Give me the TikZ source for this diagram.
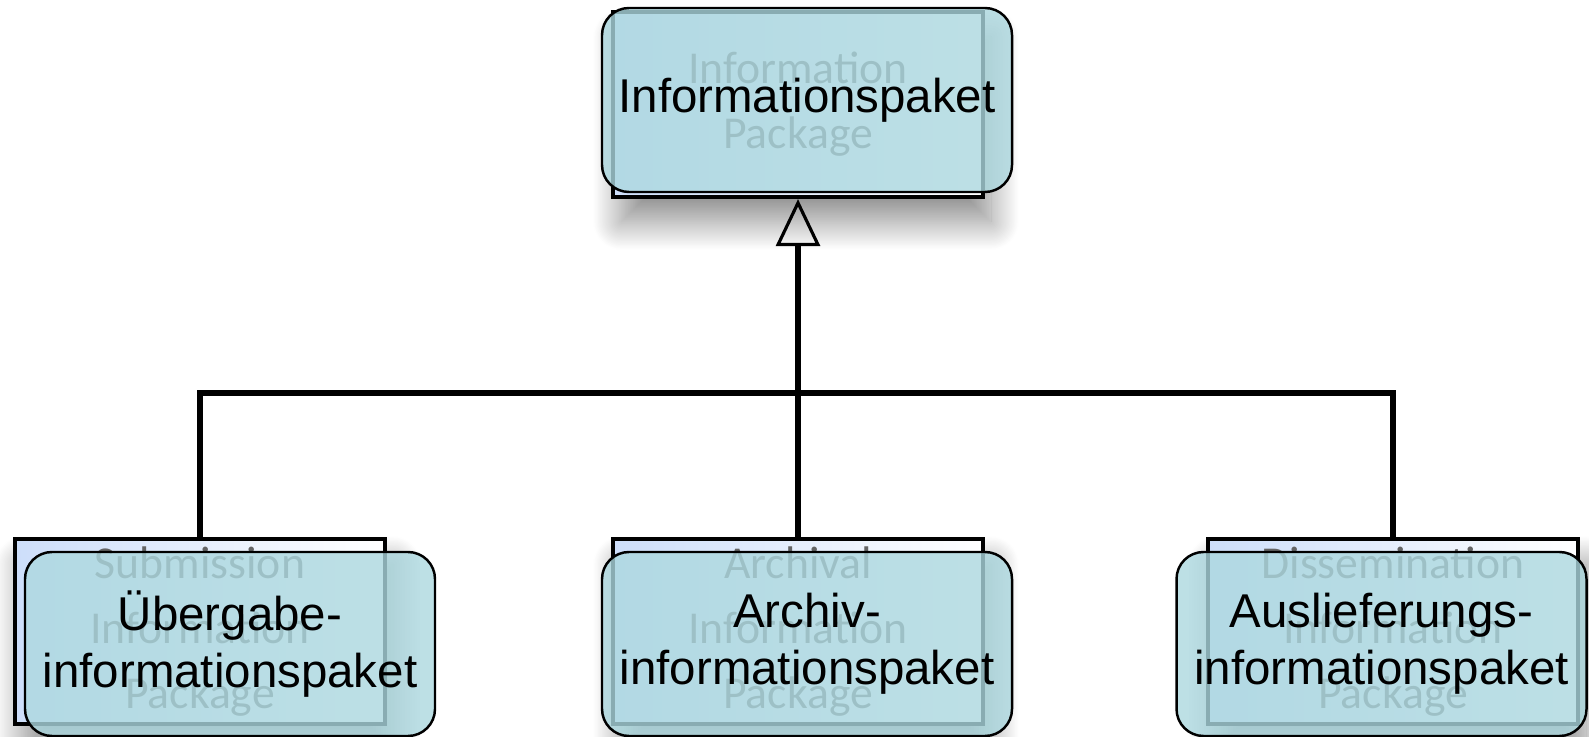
\documentclass[tikz,border=0pt]{standalone}
\usepackage{fontspec}
\setmainfont{Liberation Sans}
\newfontfamily\oldfont{Carlito}
\usetikzlibrary{arrows.meta,shadows.blur}

\definecolor{paketblue}{RGB}{172,216,223}
\definecolor{oldtext}{RGB}{100,100,100}
\definecolor{oldfill}{RGB}{205,222,250}

\begin{document}
\begin{tikzpicture}
    \useasboundingbox (0,0) rectangle (15.89,-7.37);

    \begin{scope}[every node/.style={rectangle,draw,line width=1.2pt,inner sep=0pt,
        minimum width=3.7cm,minimum height=1.85cm,left color=oldfill,right color=white,
        text=oldtext,align=center,font=\oldfont\fontsize{13}{18.5}\selectfont,
        blur shadow={shadow xshift=0.08cm,shadow yshift=-0.25cm,shadow blur radius=0.28cm,
        shadow blur steps=40,shadow opacity=45}}]
        \node (IP) at (7.98,-1.045) {Information\\Package};
        \node (SIP) at (2.0,-6.315) {Submission\\Information\\Package};
        \node (AIP) at (7.98,-6.315) {Archival\\Information\\Package};
        \node (DIP) at (13.93,-6.315) {Dissemination\\Information\\Package};
    \end{scope}

    \coordinate (bar) at (7.98,-3.93);
    \begin{scope}[line width=1.5pt]
        \draw (SIP.north) |- (bar) -| (DIP.north);
        \draw [-{Triangle[open,width=0.44cm,length=0.47cm,line width=0.9pt]}] (AIP.north) -- (IP.south);
    \end{scope}

    \begin{scope}[every node/.style={rectangle,rounded corners=0.27cm,draw,line width=0.7pt,
        fill=paketblue,fill opacity=0.8,text opacity=1,minimum width=4.1cm,minimum height=1.84cm,
        align=center,font=\fontsize{13.5}{16.2}\selectfont}]
        \node (IPde) at (8.07,-1.0) {Informationspaket};
        \node (SIPde) at (2.30,-6.44) {Übergabe-\\informationspaket};
        \node (AIPde) at (8.07,-6.44) {Archiv-\\informationspaket};
        \node (DIPde) at (13.815,-6.44) {Auslieferungs-\\informationspaket};
    \end{scope}
\end{tikzpicture}
\end{document}
